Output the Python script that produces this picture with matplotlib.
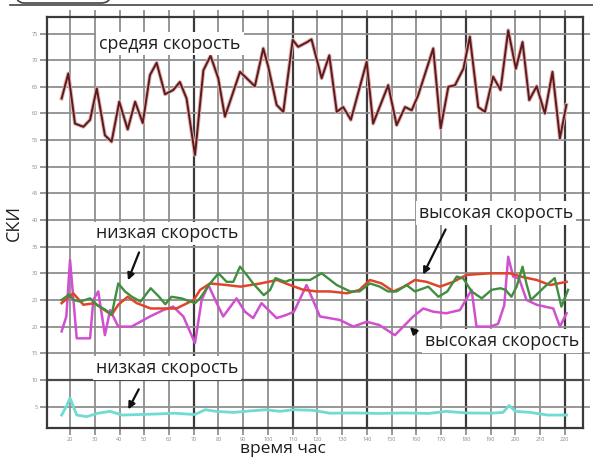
import matplotlib
matplotlib.use("Agg")
import matplotlib.pyplot as plt
from matplotlib.patches import FancyBboxPatch
from matplotlib.lines import Line2D

plt.rcParams['font.family'] = ['Open Sans', 'DejaVu Sans']

# ---- data -------------------------------------------------------------
x_ticks = list(range(20, 230, 10))
y_ticks = list(range(5, 80, 5))

mean_t = [16.6, 19.3, 22.0, 25.4, 28.1, 30.8, 34.1, 36.8, 39.9, 43.3, 46.3, 49.4,
          52.3, 55.0, 58.4, 61.7, 64.4, 67.1, 70.5, 73.9, 76.8, 79.9, 82.6, 88.7,
          91.4, 94.7, 98.1, 100.1, 103.5, 106.2, 110.0, 112.2, 115.5, 117.6, 121.7,
          124.8, 127.8, 130.4, 133.5, 139.9, 142.5, 148.6, 152.0, 155.4, 158.1,
          160.7, 166.8, 169.8, 172.9, 175.6, 179.0, 181.6, 185.0, 187.7, 191.0,
          194.0, 197.1, 200.2, 202.9, 205.6, 208.6, 211.9, 215.0, 218.0, 220.6]
mean_v = [62.8, 67.5, 58.1, 57.5, 58.8, 64.7, 55.9, 54.7, 62.2, 57.0, 62.2, 58.2,
          67.2, 69.5, 63.6, 64.4, 65.9, 62.8, 52.2, 68.1, 70.8, 66.6, 59.4, 67.8,
          66.6, 65.1, 72.2, 68.8, 61.6, 60.3, 73.8, 72.5, 73.3, 73.9, 66.6,
          70.9, 60.3, 61.2, 58.8, 69.7, 58.1, 65.3, 57.8, 61.2, 60.6,
          63.4, 72.2, 57.2, 65.0, 65.3, 68.4, 74.4, 61.2, 60.3, 66.9,
          64.4, 75.6, 68.4, 73.4, 62.5, 65.1, 60.0, 67.8, 55.3, 61.6]

mag_t = [16.6, 18.5, 20.0, 22.7, 28.1, 29.4, 31.4, 34.1, 36.2, 39.5, 44.9, 52.3,
         57.7, 61.7, 65.8, 70.5, 73.2, 75.9, 79.3, 81.9, 87.3, 90.7, 94.0, 97.4,
         103.5, 107.5, 110.5, 115.6, 121.0, 129.0, 134.5, 139.9, 145.0, 151.3,
         154.7, 158.7, 162.8, 166.8, 172.0, 177.6, 182.3, 184.3, 189.7, 193.0,
         195.5, 197.1, 199.1, 201.5, 204.5, 208.6, 215.3, 218.0, 220.7]
mag_v = [19.1, 21.9, 32.5, 17.8, 17.8, 25.0, 26.6, 18.4, 23.1, 20.0, 20.0, 21.9,
         23.1, 23.75, 21.9, 16.9, 25.0, 27.8, 24.4, 21.9, 25.3, 22.8, 21.6, 24.4,
         21.6, 22.2, 22.8, 27.8, 21.9, 21.25, 20.0, 20.9, 20.3, 18.4,
         20.0, 21.9, 23.4, 22.8, 22.5, 23.1, 26.9, 20.0, 20.0, 20.5,
         24.0, 33.1, 29.4, 29.0, 25.0, 24.1, 23.4, 20.0, 22.5]

grn_t = [16.6, 19.5, 21.5, 24.1, 28.1, 31.0, 34.5, 36.8, 39.5, 42.2, 45.0, 48.5,
         52.6, 56.0, 58.5, 61.0, 65.0, 70.5, 72.5, 76.6, 80.0, 83.3, 86.0, 88.7,
         91.4, 94.0, 98.3, 100.9, 103.0, 107.0, 108.9, 117.0, 121.7, 127.8, 133.2,
         137.0, 141.2, 145.2, 148.5, 152.0, 156.0, 159.4, 164.8, 168.9, 172.5,
         176.3, 179.0, 182.3, 186.4, 190.4, 194.0, 196.0, 198.4, 200.5, 202.9,
         204.5, 206.3, 209.0, 211.9, 215.9, 218.6, 221.3]
grn_v = [25.0, 26.0, 25.0, 24.7, 25.3, 24.0, 23.1, 22.2, 28.1, 26.6, 25.6, 24.7,
         27.2, 25.6, 24.2, 25.6, 25.3, 24.4, 25.3, 28.1, 30.0, 28.4, 28.4, 31.25,
         29.7, 28.1, 25.9, 26.9, 29.1, 28.4, 28.75, 28.75, 30.0, 27.8, 26.6,
         26.6, 28.1, 27.5, 26.6, 26.6, 27.8, 26.6, 27.5, 25.6, 26.6,
         29.4, 29.0, 26.6, 25.3, 26.9, 27.2, 26.9, 25.6, 27.5, 31.25,
         28.0, 25.0, 26.2, 27.5, 29.1, 23.75, 26.9]

red_t = [16.6, 21.3, 25.4, 30.0, 33.0, 36.8, 39.5, 43.3, 47.0, 52.6, 58.0, 63.0,
         70.0, 72.6, 76.6, 83.3, 88.9, 97.0, 103.7, 108.9, 114.3, 119.7, 125.0,
         132.0, 137.0, 141.2, 145.9, 150.7, 155.0, 159.4, 164.1, 169.5, 174.9,
         180.3, 189.7, 197.8, 203.0, 208.6, 214.0, 220.7]
red_v = [24.4, 26.25, 24.1, 24.4, 23.4, 22.2, 24.1, 25.6, 24.4, 23.4, 23.4, 23.4,
         25.0, 26.9, 28.1, 27.8, 27.5, 28.1, 28.75, 27.8, 26.9, 26.6, 26.6,
         26.25, 26.9, 28.75, 28.1, 26.6, 27.5, 28.75, 28.4, 27.5, 28.4,
         29.7, 30.0, 30.0, 29.3, 28.75, 27.8, 28.4]

cyn_t = [16.6, 18.5, 20.0, 22.7, 26.7, 31.4, 36.2, 41.0, 48.0, 55.0, 62.0, 70.5,
         74.6, 79.0, 86.0, 93.5, 99.0, 105.0, 110.0, 118.0, 125.0, 135.0, 145.0,
         155.0, 165.0, 172.0, 180.0, 190.0, 195.0, 197.5, 200.0, 206.0, 213.0, 220.7]
cyn_v = [3.4, 5.0, 6.6, 3.4, 3.1, 3.75, 4.1, 3.4, 3.5, 3.6, 3.75, 3.5,
         4.4, 4.1, 3.9, 4.2, 4.4, 4.1, 4.4, 4.3, 3.75, 3.8, 3.7,
         3.8, 3.7, 4.1, 3.8, 3.75, 3.9, 5.2, 4.1, 3.9, 3.4, 3.4]

dark_x = [70, 110, 140, 180, 220]
dark_y = [10]

# ---- figure -----------------------------------------------------------
fig = plt.figure(figsize=(5.93, 4.59), dpi=100)
ax = fig.add_axes([0.0793, 0.0675, 0.9037, 0.8955])
ax.set_xlim(10.7, 227.3)
ax.set_ylim(0.97, 78.1)

# grid
for xv in x_ticks:
    dark = xv in dark_x
    ax.axvline(xv, color='#3a3a3a' if dark else '#8f8f8f',
               lw=1.6 if dark else 1.3, zorder=1)
for yv in y_ticks:
    dark = yv in dark_y
    ax.axhline(yv, color='#4a4a4a' if dark else '#8f8f8f',
               lw=1.6 if dark else 1.3, zorder=1)

ax.set_xticks(x_ticks)
ax.set_yticks(y_ticks)
ax.set_xticklabels([str(v) for v in x_ticks])
ax.set_yticklabels([str(v) for v in y_ticks])
ax.tick_params(axis='both', which='both', direction='out', length=5, width=1.2,
               color='#888888', labelsize=4, labelcolor='#888888',
               top=True, right=True, pad=1.5)
for s in ax.spines.values():
    s.set_color('#3a3a3a')
    s.set_linewidth(1.6)

# series
ax.plot(cyn_t, cyn_v, color='#6fdcd4', lw=2.0, zorder=3)
ax.plot(mag_t, mag_v, color='#d050d0', lw=1.8, zorder=3)
ax.plot(red_t, red_v, color='#e0442a', lw=1.8, zorder=4)
ax.plot(grn_t, grn_v, color='#3f8f3f', lw=1.7, zorder=4)
ax.plot(mean_t, mean_v, color='#dcb0b0', lw=2.8, zorder=4)
ax.plot(mean_t, mean_v, color='#5e1a1a', lw=1.4, zorder=5)

# annotations
box = dict(facecolor='white', edgecolor='none', pad=2)
tkw = dict(fontsize=12.8, color='#1e1e1e', ha='center', va='center', bbox=box, zorder=6)
ax.text(60.4, 73.1, 'средяя скорость', **tkw)
ax.text(59.2, 37.5, 'низкая скорость', **tkw)
ax.text(192.1, 41.3, 'высокая скорость', **tkw)
ax.text(194.5, 17.3, 'высокая скорость', **tkw)
ax.text(59.2, 12.2, 'низкая скорость', **tkw)

akw = dict(arrowstyle='-|>', color='#111111', lw=1.6, mutation_scale=10)
ax.annotate('', xy=(43.0, 28.2), xytext=(48.3, 34.4), arrowprops=akw, zorder=7)
ax.annotate('', xy=(43.0, 4.0), xytext=(48.3, 8.7), arrowprops=akw, zorder=7)
ax.annotate('', xy=(162.2, 29.3), xytext=(172.3, 38.7), arrowprops=akw, zorder=7)
ax.annotate('', xy=(156.6, 20.3), xytext=(160.6, 18.4), arrowprops=akw, zorder=7)

ax.set_ylabel('СКИ', fontsize=13, color='#1e1e1e', labelpad=6)
ax.set_xlabel('время час', fontsize=12.5, color='#1e1e1e')
ax.xaxis.set_label_coords(0.44, -0.0605)
ax.xaxis.label.set_verticalalignment('baseline')

# page decoration along the top edge
fig.add_artist(Line2D([10 / 593, 1.0], [1 - 4.5 / 459, 1 - 4.5 / 459],
                      transform=fig.transFigure, color='#444444', lw=1.2))
fig.add_artist(FancyBboxPatch((15 / 593, 1 - 3 / 459), 95 / 593, 20 / 459,
                              boxstyle='round,pad=0,rounding_size=0.015',
                              transform=fig.transFigure, facecolor='none',
                              edgecolor='#444444', lw=1.2, clip_on=False))

fig.savefig('out.png', dpi=100)
